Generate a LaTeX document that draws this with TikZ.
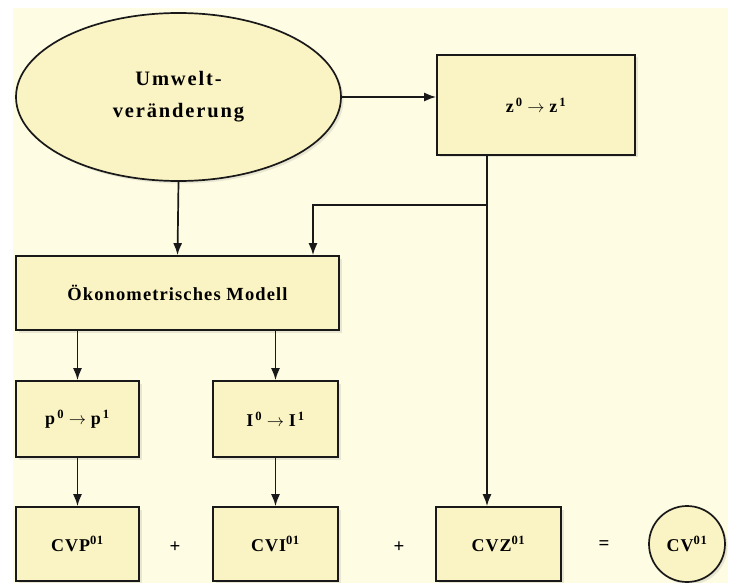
\documentclass[tikz,border=0pt]{standalone}
\usepackage{fontspec}
\setmainfont{Liberation Serif}
\usetikzlibrary{shapes.geometric,arrows.meta,shadows}
\definecolor{bgc}{RGB}{255,252,228}
\definecolor{boxc}{RGB}{250,243,195}
\definecolor{linec}{RGB}{25,25,25}
\newfontfamily\wideA[LetterSpace=9]{Liberation Serif}
\newfontfamily\wideB[LetterSpace=6]{Liberation Serif}
\newfontfamily\wideC[LetterSpace=5]{Liberation Serif}
\tikzset{
  shapebox/.style={draw=linec, line width=1.7pt, fill=boxc, inner sep=0pt,
    drop shadow={opacity=0.18, shadow xshift=2.5pt, shadow yshift=-2.5pt}},
  rectbox/.style={shapebox, rectangle},
  conn/.style={draw=linec, line width=1.7pt},
  arr/.style={conn, -{Latex[length=12pt,width=9pt]}},
  optext/.style={font=\bfseries\fontsize{19}{20}\selectfont},
  mathtext/.style={font=\fontsize{18}{20}\selectfont},
  cvtext/.style={font=\wideC\bfseries\fontsize{18}{20}\selectfont}
}
\begin{document}
\begin{tikzpicture}[x=1pt,y=-1pt]
\useasboundingbox (0,0) rectangle (734,583);
\fill[bgc] (13,8) rectangle (728,583);

\node[shapebox, ellipse, minimum width=325pt, minimum height=168pt,
      align=center, font=\wideA\bfseries\fontsize{20.5}{32}\selectfont] (ell) at (178.5,97)
      {Umwelt-\\veränderung};
\node[rectbox, minimum width=198pt, minimum height=100pt, mathtext] (zbox) at (536,105)
      {$\mathbf{z}^{\,\mathbf{0}}\rightarrow\mathbf{z}^{\,\mathbf{1}}$};
\node[rectbox, minimum width=323pt, minimum height=74pt,
      font=\wideB\bfseries\fontsize{18.5}{20}\selectfont] (oeko) at (177.5,293)
      {Ökonometrisches Modell};
\node[rectbox, minimum width=123pt, minimum height=76pt, mathtext] (pbox) at (77.5,419)
      {$\mathbf{p}^{\,\mathbf{0}}\rightarrow\mathbf{p}^{\,\mathbf{1}}$};
\node[rectbox, minimum width=125pt, minimum height=76pt, mathtext] (ibox) at (275.5,419)
      {$\mathbf{I}^{\,\mathbf{0}}\rightarrow\mathbf{I}^{\,\mathbf{1}}$};
\node[rectbox, minimum width=123pt, minimum height=74pt, cvtext] (cvp) at (77.5,544)
      {CVP\textsuperscript{01}};
\node[rectbox, minimum width=125pt, minimum height=74pt, cvtext] (cvi) at (275.5,544)
      {CVI\textsuperscript{01}};
\node[rectbox, minimum width=125pt, minimum height=74pt, cvtext] (cvz) at (498.5,544)
      {CVZ\textsuperscript{01}};
\node[shapebox, circle, minimum size=76pt, cvtext] (cv) at (687,544)
      {CV\textsuperscript{01}};
\node[optext] (plusA) at (175,547) {+};
\node[optext] (plusB) at (399,547) {+};
\node[optext] (eq) at (604,545) {=};

\coordinate (zj) at (487,205);
\coordinate (ox) at (313,205);

\draw[arr] (ell.east) -- (ell.east -| zbox.west);
\draw[arr] (ell.south) -- (oeko.north);
\draw[conn] (zbox.south -| zj) -- (zj);
\draw[arr] (zj) -- (ox) -- (ox |- oeko.north);
\draw[arr] (zj) -- (zj |- cvz.north);
\draw[arr] (oeko.south -| pbox.north) -- (pbox.north);
\draw[arr] (oeko.south -| ibox.north) -- (ibox.north);
\draw[arr] (pbox.south) -- (cvp.north);
\draw[arr] (ibox.south) -- (cvi.north);
\end{tikzpicture}
\end{document}
